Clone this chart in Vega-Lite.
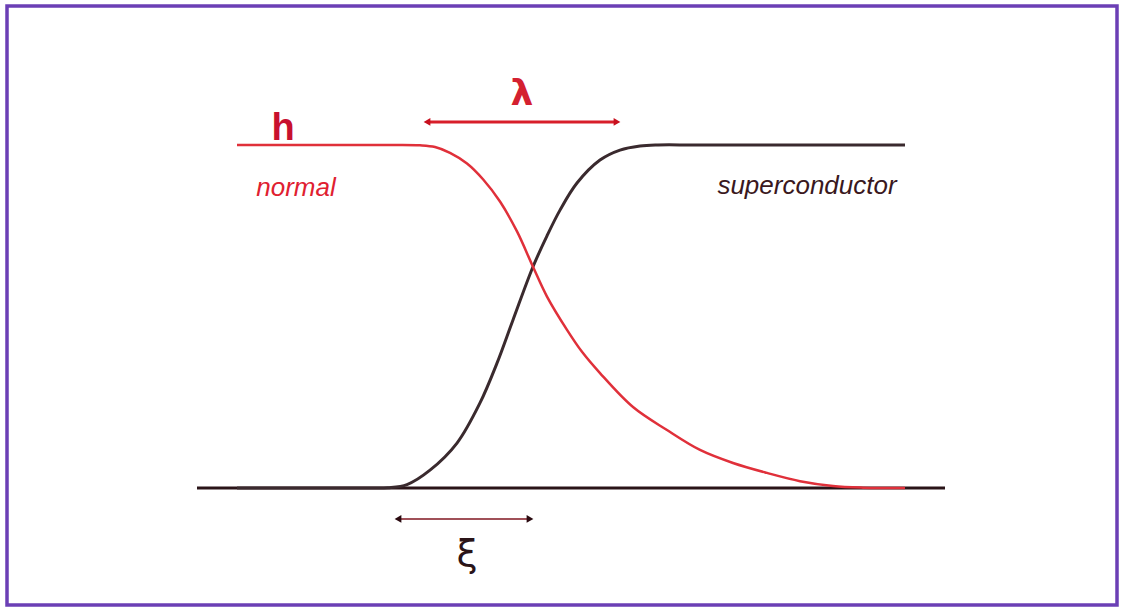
{
  "$schema": "https://vega.github.io/schema/vega-lite/v6.json",
  "width": 1110,
  "height": 599,
  "autosize": "none",
  "padding": {"left": 7, "top": 6, "right": 4, "bottom": 5},
  "background": "white",
  "config": {"view": {"stroke": "#6b3fb5", "strokeWidth": 3.5}},
  "datasets": {
    "baseline": [{"x": -3.36, "v": 0}, {"x": 4.12, "v": 0}],
    "field": [
      {"x": -2.96, "v": 1.0}, {"x": -2.4, "v": 1.0}, {"x": -1.8, "v": 1.0}, {"x": -1.4, "v": 1.0},
      {"x": -1.13, "v": 0.999}, {"x": -0.98, "v": 0.994}, {"x": -0.83, "v": 0.977},
      {"x": -0.66, "v": 0.946}, {"x": -0.5, "v": 0.9}, {"x": -0.33, "v": 0.835}, {"x": -0.16, "v": 0.748},
      {"x": 0, "v": 0.645}, {"x": 0.14, "v": 0.558}, {"x": 0.34, "v": 0.461}, {"x": 0.49, "v": 0.397},
      {"x": 0.67, "v": 0.335}, {"x": 1.0, "v": 0.236}, {"x": 1.34, "v": 0.169}, {"x": 1.67, "v": 0.111},
      {"x": 2.0, "v": 0.073}, {"x": 2.34, "v": 0.044}, {"x": 2.67, "v": 0.02}, {"x": 3.0, "v": 0.006},
      {"x": 3.3, "v": 0.001}, {"x": 3.5, "v": 0.0}, {"x": 3.72, "v": 0.0}
    ],
    "order": [
      {"x": -2.96, "v": 0}, {"x": -2.4, "v": 0}, {"x": -1.9, "v": 0}, {"x": -1.6, "v": 0.0}, {"x": -1.45, "v": 0.001},
      {"x": -1.26, "v": 0.01}, {"x": -1.03, "v": 0.052},
      {"x": -0.76, "v": 0.131}, {"x": -0.53, "v": 0.248}, {"x": -0.36, "v": 0.364}, {"x": -0.2, "v": 0.49},
      {"x": 0, "v": 0.645}, {"x": 0.14, "v": 0.735}, {"x": 0.27, "v": 0.81}, {"x": 0.44, "v": 0.889},
      {"x": 0.67, "v": 0.956}, {"x": 0.87, "v": 0.985}, {"x": 1.07, "v": 0.997}, {"x": 1.25, "v": 1.0},
      {"x": 1.6, "v": 1.0}, {"x": 2.2, "v": 1.0}, {"x": 3.0, "v": 1.0}, {"x": 3.72, "v": 1.0}
    ],
    "lambda": [{"x": -1.06, "v": 1.067, "shape": "triangle-left"}, {"x": 0.84, "v": 1.067, "shape": "triangle-right"}],
    "xi": [{"x": -1.35, "v": -0.09, "shape": "triangle-left"}, {"x": -0.03, "v": -0.09, "shape": "triangle-right"}],
    "labels": [
      {"x": -2.5, "v": 1.015, "text": "h", "kind": "h"},
      {"x": -0.11, "v": 1.117, "text": "λ", "kind": "lambda"},
      {"x": -0.66, "v": -0.227, "text": "ξ", "kind": "xi"}
    ],
    "words": [
      {"x": -2.37, "v": 0.851, "text": "normal", "kind": "normal"},
      {"x": 2.74, "v": 0.857, "text": "superconductor", "kind": "sc"}
    ]
  },
  "encoding": {
    "x": {"field": "x", "type": "quantitative", "scale": {"domain": [-5.26, 5.84], "nice": false, "zero": false}, "axis": null},
    "y": {"field": "v", "type": "quantitative", "scale": {"domain": [-0.341, 1.405], "nice": false, "zero": false}, "axis": null}
  },
  "layer": [
    {"data": {"name": "baseline"}, "mark": {"type": "line", "color": "#2a1418", "strokeWidth": 3}},
    {"data": {"name": "order"}, "mark": {"type": "line", "color": "#3a2a2e", "strokeWidth": 3, "interpolate": "catmull-rom"}},
    {"data": {"name": "field"}, "mark": {"type": "line", "color": "#e0303a", "strokeWidth": 2.5, "interpolate": "catmull-rom"}},
    {"data": {"name": "lambda"}, "mark": {"type": "line", "color": "#d81e2a", "strokeWidth": 3}},
    {"data": {"name": "lambda"}, "mark": {"type": "point", "filled": true, "color": "#c8101e", "size": 60, "opacity": 1},
     "encoding": {"shape": {"field": "shape", "type": "nominal", "scale": null}}},
    {"data": {"name": "xi"}, "mark": {"type": "line", "color": "#a05058", "strokeWidth": 2}},
    {"data": {"name": "xi"}, "mark": {"type": "point", "filled": true, "color": "#2a0a10", "size": 60, "opacity": 1},
     "encoding": {"shape": {"field": "shape", "type": "nominal", "scale": null}}},
    {"data": {"name": "labels"}, "transform": [{"filter": "datum.kind == 'h'"}],
     "mark": {"type": "text", "font": "Liberation Sans", "fontSize": 38, "fontWeight": "bold", "color": "#c8102e", "baseline": "alphabetic", "align": "center"},
     "encoding": {"text": {"field": "text"}}},
    {"data": {"name": "labels"}, "transform": [{"filter": "datum.kind == 'lambda'"}],
     "mark": {"type": "text", "font": "DejaVu Sans", "fontSize": 36, "fontWeight": "bold", "color": "#d42030", "baseline": "alphabetic", "align": "center"},
     "encoding": {"text": {"field": "text"}}},
    {"data": {"name": "labels"}, "transform": [{"filter": "datum.kind == 'xi'"}],
     "mark": {"type": "text", "font": "DejaVu Sans", "fontSize": 38, "color": "#2a1418", "baseline": "alphabetic", "align": "center"},
     "encoding": {"text": {"field": "text"}}},
    {"data": {"name": "words"}, "transform": [{"filter": "datum.kind == 'normal'"}],
     "mark": {"type": "text", "font": "Liberation Sans", "fontSize": 26, "fontStyle": "italic", "color": "#e02030", "baseline": "alphabetic", "align": "center"},
     "encoding": {"text": {"field": "text"}}},
    {"data": {"name": "words"}, "transform": [{"filter": "datum.kind == 'sc'"}],
     "mark": {"type": "text", "font": "Liberation Sans", "fontSize": 26, "fontStyle": "italic", "color": "#3a1820", "baseline": "alphabetic", "align": "center"},
     "encoding": {"text": {"field": "text"}}}
  ]
}
